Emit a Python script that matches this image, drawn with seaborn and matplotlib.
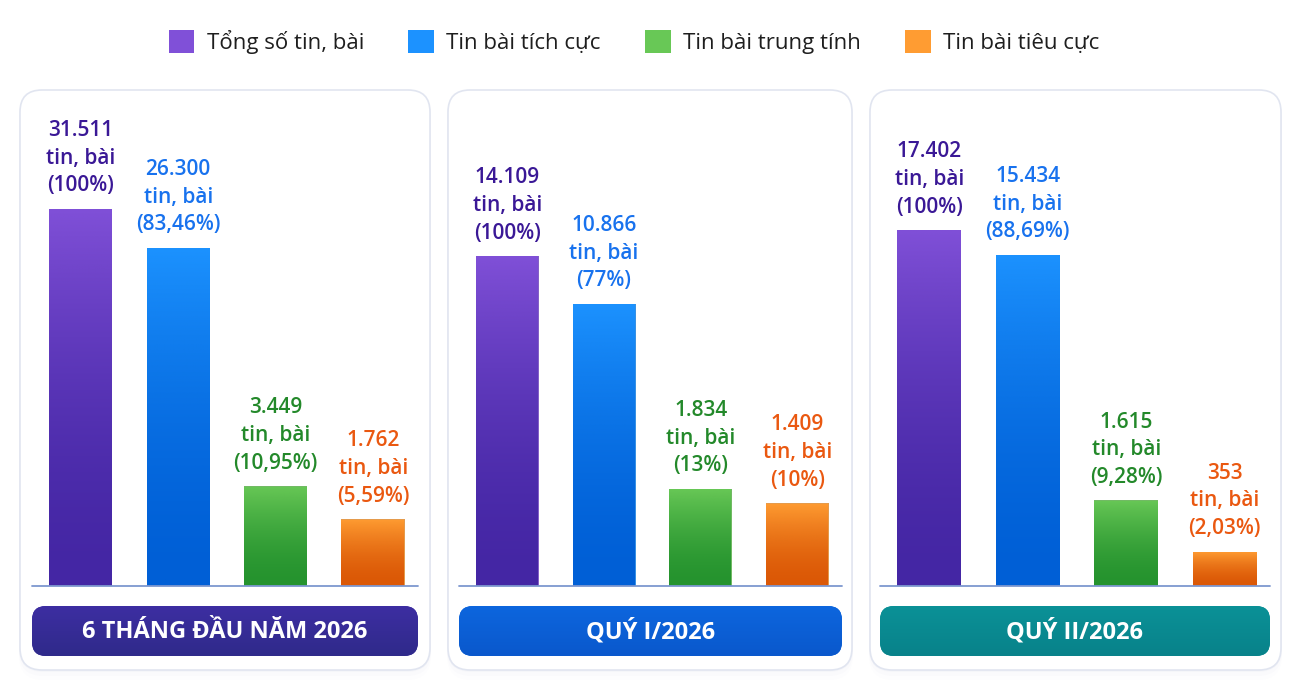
import numpy as np
import pandas as pd
import matplotlib
matplotlib.use('Agg')
import matplotlib.pyplot as plt
import seaborn as sns
from matplotlib.patches import FancyBboxPatch, Patch
from matplotlib.colors import LinearSegmentedColormap

# data
categories = ['Tổng số tin, bài', 'Tin bài tích cực', 'Tin bài trung tính', 'Tin bài tiêu cực']
periods = ['6 THÁNG ĐẦU NĂM 2026', 'QUÝ I/2026', 'QUÝ II/2026']
half_year = [31511, 26300, 3449, 1762]
quarter_1 = [14109, 10866, 1834, 1409]
quarter_2 = [17402, 15434, 1615, 353]
pct_half_year = ['100%', '83,46%', '10,95%', '5,59%']
pct_quarter_1 = ['100%', '77%', '13%', '10%']
pct_quarter_2 = ['100%', '88,69%', '9,28%', '2,03%']

# styling
bar_top = ['#8050d8', '#1c92ff', '#68c856', '#ff9c32']
bar_bottom = ['#4426a4', '#005fd6', '#25932e', '#db5806']
label_colors = ['#3a1896', '#1872ee', '#23892a', '#ea5810']
banner_colors = [('#3d2ea2', '#2f2a8a'), ('#0d66de', '#0a58cc'), ('#0b9197', '#08828a')]

W, H = 1304, 694
sns.set_theme(style='white')
plt.rcParams['font.family'] = ['Open Sans', 'DejaVu Sans']

fig = plt.figure(figsize=(W / 100, H / 100), dpi=100)
fig.patch.set_facecolor('white')

# background axes in pixel units for cards and banners
bg = fig.add_axes([0, 0, 1, 1], zorder=0)
bg.set_xlim(0, W)
bg.set_ylim(H, 0)
bg.set_axis_off()

cards = [(20, 430), (448, 852), (870, 1281)]
banners = [(32, 418), (459, 842), (880, 1270)]
plot_x = [(32, 418), (459, 842), (880, 1270)]
top_px = [377, 330, 356]   # drawn height of the tallest bar in each panel
base_y, axes_top = 586, 95
power = 0.6


def grad_fill(ax, patch, c_bottom, c_top, extent, z):
    cmap = LinearSegmentedColormap.from_list('g', [c_bottom, c_top])
    img = ax.imshow(np.linspace(0, 1, 256).reshape(-1, 1), cmap=cmap, extent=extent,
                    origin='lower', aspect='auto', zorder=z, interpolation='bicubic')
    img.set_clip_path(patch)


for (x0, x1) in cards:
    for k, a in enumerate([0.035, 0.025, 0.015]):
        sh = FancyBboxPatch((x0 - 1, 90 + 2 + 2 * k), x1 - x0 + 2, 580 + 2 * k,
                            boxstyle='round,pad=0,rounding_size=24', fc='#8a96c0',
                            ec='none', alpha=a, zorder=1)
        bg.add_patch(sh)
    card = FancyBboxPatch((x0, 90), x1 - x0, 580, boxstyle='round,pad=0,rounding_size=22',
                          fc='white', ec='#e1e5f0', lw=1.2, zorder=2)
    bg.add_patch(card)

for (x0, x1), (c1, c2), name in zip(banners, banner_colors, periods):
    b = FancyBboxPatch((x0, 606), x1 - x0, 50, boxstyle='round,pad=0,rounding_size=14',
                       fc=c1, ec='none', zorder=3)
    bg.add_patch(b)
    grad_fill(bg, b, c2, c1, [x0, x1, 656, 606], 4)
    bg.text((x0 + x1) / 2, 632, name, color='white', fontsize=17, fontweight='bold',
            ha='center', va='center', zorder=5)
bg.set_xlim(0, W)
bg.set_ylim(H, 0)

panels = [(half_year, pct_half_year), (quarter_1, pct_quarter_1), (quarter_2, pct_quarter_2)]

for (vals, pcts), (x0, x1), hp in zip(panels, plot_x, top_px):
    ax = fig.add_axes([x0 / W, 1 - base_y / H, (x1 - x0) / W, (base_y - axes_top) / H], zorder=2)
    df = pd.DataFrame({'category': categories, 'value': vals})
    sns.barplot(data=df, x='category', y='value', hue='category', palette=bar_top,
                width=0.65, legend=False, ax=ax, linewidth=0)
    ax.set_yscale('function', functions=(lambda v: np.power(np.clip(v, 0, None), power),
                                         lambda v: np.power(np.clip(v, 0, None), 1 / power)))
    ymax = max(vals) * ((base_y - axes_top) / hp) ** (1 / power)
    for i, p in enumerate(list(ax.patches)):
        xx, w, h = p.get_x(), p.get_width(), p.get_height()
        grad_fill(ax, p, bar_bottom[i], bar_top[i], [xx, xx + w, 0, h], 3)
    for i, (v, pc) in enumerate(zip(vals, pcts)):
        txt = f"{v:,}".replace(',', '.') + '\ntin, bài\n(' + pc + ')'
        ax.annotate(txt, (i, v), xytext=(0, 9), textcoords='offset points', ha='center',
                    va='bottom', fontsize=15, fontweight='semibold', color=label_colors[i],
                    linespacing=1.42, annotation_clip=False)
    ax.axhline(0, color='#7d97cf', lw=1.3, clip_on=False, zorder=4)
    ax.set_xlim(-0.5, 3.46)
    ax.set_ylim(0, ymax)
    ax.set_axis_off()

handles = [Patch(facecolor=c, edgecolor='none') for c in bar_top]
fig.legend(handles, categories, loc='center', bbox_to_anchor=(634 / W, 1 - 42 / H), ncol=4,
           frameon=False, fontsize=16, handlelength=1.15, handleheight=1.15,
           handletextpad=0.55, columnspacing=2.0, labelcolor='#1e1e1e')

fig.savefig('out.png', dpi=100, facecolor='white')
